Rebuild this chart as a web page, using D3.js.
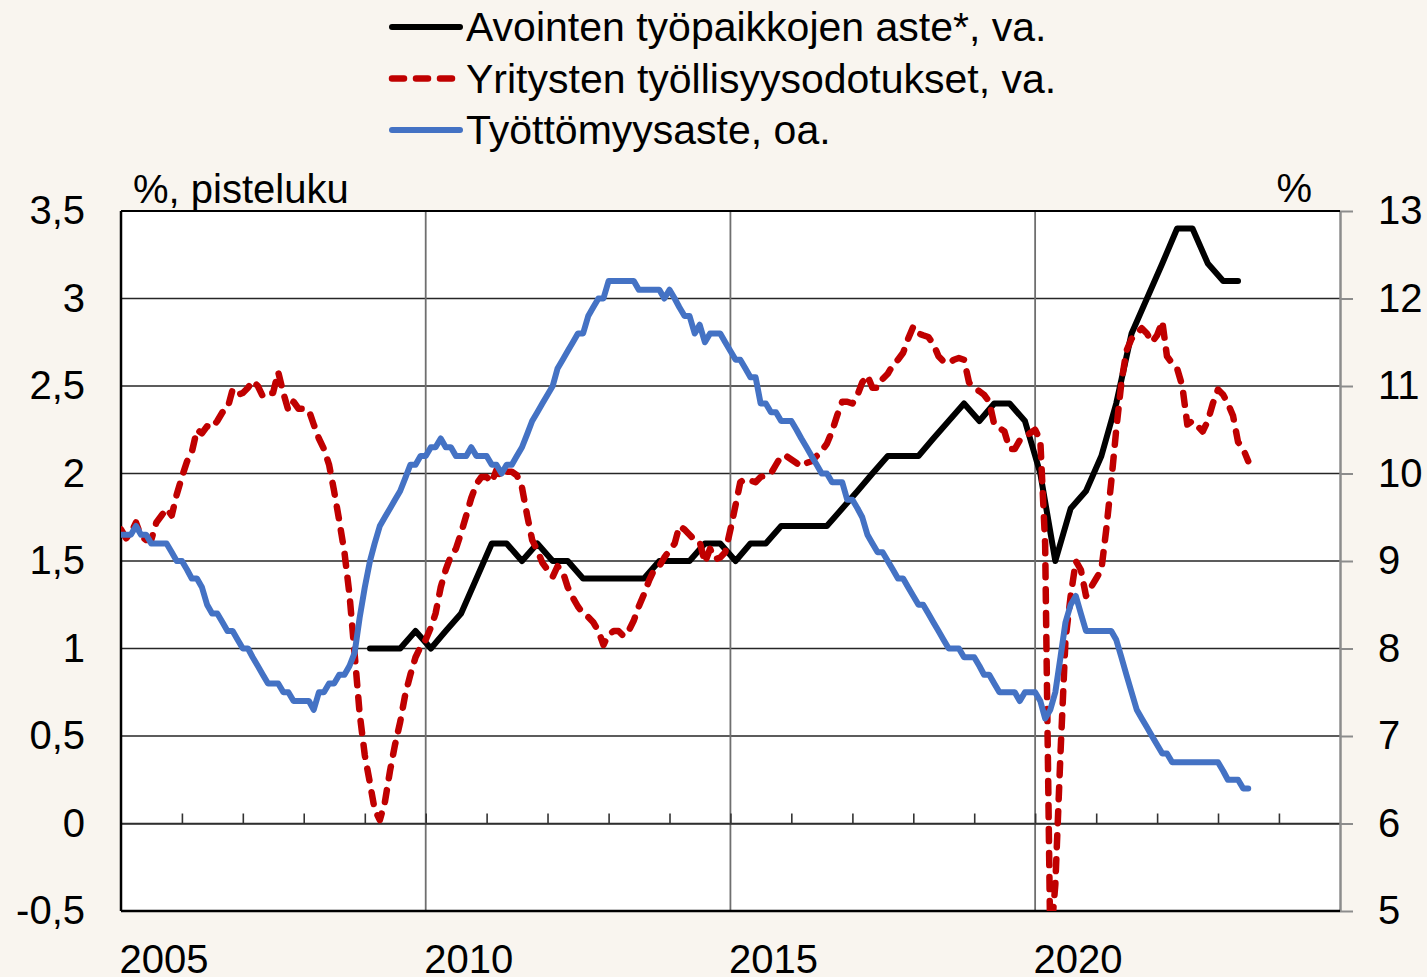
<!DOCTYPE html>
<html lang="fi">
<head>
    <meta charset="UTF-8">
    <title>Avointen työpaikkojen aste, työllisyysodotukset ja työttömyysaste</title>
    <script src="https://d3js.org/d3.v7.min.js"></script>
    <style>
        body { margin: 0; background: #f9f5ef; }
        svg text { font-family: "Liberation Sans", Arial, sans-serif; font-size: 40px; fill: #000; }
        svg text.legend-label { font-size: 41px; }
    </style>
</head>
<body>
    <svg id="chart"></svg>

    <script>
        // Työttömyysaste (trendi), %, kuukausittain tammikuusta 2005 alkaen – oikea akseli
        const tyottomyysaste = [
            9.3, 9.3, 9.3, 9.4, 9.3, 9.3, 9.2, 9.2, 9.2, 9.2, 9.1, 9.0,      // 2005
            9.0, 8.9, 8.8, 8.8, 8.7, 8.5, 8.4, 8.4, 8.3, 8.2, 8.2, 8.1,      // 2006
            8.0, 8.0, 7.9, 7.8, 7.7, 7.6, 7.6, 7.6, 7.5, 7.5, 7.4, 7.4,      // 2007
            7.4, 7.4, 7.3, 7.5, 7.5, 7.6, 7.6, 7.7, 7.7, 7.8, 7.95, 8.35,    // 2008
            8.7, 9.0, 9.2, 9.4, 9.5, 9.6, 9.7, 9.8, 9.95, 10.1, 10.1, 10.2,  // 2009
            10.2, 10.3, 10.3, 10.4, 10.3, 10.3, 10.2, 10.2, 10.2, 10.3, 10.2, 10.2, // 2010
            10.2, 10.1, 10.1, 10.0, 10.1, 10.1, 10.2, 10.3, 10.45, 10.6, 10.7, 10.8, // 2011
            10.9, 11.0, 11.2, 11.3, 11.4, 11.5, 11.6, 11.6, 11.8, 11.9, 12.0, 12.0, // 2012
            12.2, 12.2, 12.2, 12.2, 12.2, 12.2, 12.1, 12.1, 12.1, 12.1, 12.1, 12.0, // 2013
            12.1, 12.0, 11.9, 11.8, 11.8, 11.6, 11.7, 11.5, 11.6, 11.6, 11.6, 11.5, // 2014
            11.4, 11.3, 11.3, 11.2, 11.1, 11.1, 10.8, 10.8, 10.7, 10.7, 10.6, 10.6, // 2015
            10.6, 10.5, 10.4, 10.3, 10.2, 10.1, 10.0, 10.0, 9.9, 9.9, 9.9, 9.7,   // 2016
            9.7, 9.6, 9.5, 9.3, 9.2, 9.1, 9.1, 9.0, 8.9, 8.8, 8.8, 8.7,      // 2017
            8.6, 8.5, 8.5, 8.4, 8.3, 8.2, 8.1, 8.0, 8.0, 8.0, 7.9, 7.9,      // 2018
            7.9, 7.8, 7.7, 7.7, 7.6, 7.5, 7.5, 7.5, 7.5, 7.4, 7.5, 7.5,      // 2019
            7.5, 7.4, 7.2, 7.3, 7.5, 7.9, 8.3, 8.5, 8.6, 8.4, 8.2, 8.2,      // 2020
            8.2, 8.2, 8.2, 8.2, 8.1, 7.9, 7.7, 7.5, 7.3, 7.2, 7.1, 7.0,      // 2021
            6.9, 6.8, 6.8, 6.7, 6.7, 6.7, 6.7, 6.7, 6.7, 6.7, 6.7, 6.7,      // 2022
            6.7, 6.6, 6.5, 6.5, 6.5, 6.4, 6.4                                // 2023
        ];

        // Yritysten työllisyysodotukset, pisteluku, kuukausittain tammikuusta 2005 – vasen akseli
        const tyollisyysodotukset = [
            1.68, 1.63, 1.66, 1.72, 1.64, 1.62, 1.62, 1.72, 1.76, 1.80, 1.76, 1.88, // 2005
            1.98, 2.07, 2.12, 2.25, 2.23, 2.27, 2.26, 2.30, 2.35, 2.37, 2.48, 2.45, // 2006
            2.46, 2.49, 2.53, 2.50, 2.44, 2.46, 2.46, 2.58, 2.46, 2.36, 2.41, 2.37, // 2007
            2.37, 2.36, 2.28, 2.20, 2.14, 2.05, 1.90, 1.73, 1.55, 1.31, 0.97, 0.63, // 2008
            0.39, 0.23, 0.08, 0.02, 0.12, 0.30, 0.45, 0.58, 0.74, 0.85, 0.95, 1.01, // 2009
            1.05, 1.12, 1.20, 1.35, 1.45, 1.53, 1.57, 1.66, 1.76, 1.86, 1.94, 1.98, // 2010
            1.98, 1.95, 2.02, 1.98, 2.01, 2.01, 1.99, 1.92, 1.76, 1.62, 1.56, 1.49, // 2011
            1.45, 1.41, 1.47, 1.44, 1.35, 1.29, 1.24, 1.20, 1.18, 1.15, 1.10, 1.02, // 2012
            1.08, 1.10, 1.10, 1.07, 1.10, 1.16, 1.24, 1.31, 1.39, 1.45, 1.47, 1.52, // 2013
            1.56, 1.60, 1.70, 1.68, 1.65, 1.62, 1.61, 1.49, 1.57, 1.51, 1.52, 1.55, // 2014
            1.68, 1.82, 1.95, 1.97, 1.96, 1.95, 1.98, 1.99, 2.00, 2.05, 2.10, 2.10, // 2015
            2.08, 2.06, 2.04, 2.06, 2.07, 2.10, 2.13, 2.17, 2.24, 2.33, 2.41, 2.41, // 2016
            2.40, 2.45, 2.52, 2.56, 2.49, 2.49, 2.54, 2.57, 2.62, 2.65, 2.69, 2.77, // 2017
            2.84, 2.80, 2.79, 2.78, 2.74, 2.67, 2.64, 2.63, 2.65, 2.66, 2.65, 2.52, // 2018
            2.49, 2.47, 2.45, 2.41, 2.28, 2.26, 2.24, 2.14, 2.14, 2.19, 2.21, 2.23, // 2019
            2.25, 2.19, 1.60, -0.70, -0.35, 0.40, 1.05, 1.30, 1.50, 1.45, 1.30, 1.35, // 2020
            1.40, 1.45, 1.67, 1.95, 2.25, 2.52, 2.70, 2.77, 2.80, 2.83, 2.80, 2.75, // 2021
            2.79, 2.87, 2.67, 2.63, 2.60, 2.50, 2.28, 2.30, 2.27, 2.24, 2.30, 2.40, // 2022
            2.48, 2.45, 2.40, 2.33, 2.18, 2.14, 2.07                                 // 2023
        ];

        // Avointen työpaikkojen aste*, %, neljännesvuosittain 2009Q1 alkaen – vasen akseli
        const avoimetTyopaikat = [
            1.0, 1.0, 1.0, 1.1,   // 2009
            1.0, 1.1, 1.2, 1.4,   // 2010
            1.6, 1.6, 1.5, 1.6,   // 2011
            1.5, 1.5, 1.4, 1.4,   // 2012
            1.4, 1.4, 1.4, 1.5,   // 2013
            1.5, 1.5, 1.6, 1.6,   // 2014
            1.5, 1.6, 1.6, 1.7,   // 2015
            1.7, 1.7, 1.7, 1.8,   // 2016
            1.9, 2.0, 2.1, 2.1,   // 2017
            2.1, 2.2, 2.3, 2.4,   // 2018
            2.3, 2.4, 2.4, 2.3,   // 2019
            2.0, 1.5, 1.8, 1.9,   // 2020
            2.1, 2.4, 2.8, 3.0,   // 2021
            3.2, 3.4, 3.4, 3.2,   // 2022
            3.1, 3.1              // 2023
        ];

        // Akselien jaot ja otsikot
        const vasenJako = [-0.5, 0, 0.5, 1, 1.5, 2, 2.5, 3, 3.5];
        const oikeaJako = [5, 6, 7, 8, 9, 10, 11, 12, 13];
        const vuosiNimet = [2005, 2010, 2015, 2020];
        const vuosiMerkit = d3.range(2006, 2025);
        const sarjaNimet = [
            "Avointen työpaikkojen aste*, va.",
            "Yritysten työllisyysodotukset, va.",
            "Työttömyysaste, oa."
        ];

        const width = 1427, height = 977;
        const plot = { left: 121, right: 1340, top: 211, bottom: 911 };

        const fmt = d3.formatLocale({
            decimal: ",", thousands: " ", grouping: [3], currency: ["", " €"], minus: "-"
        }).format("");

        const x = d3.scaleTime()
            .domain([new Date(2005, 0, 1), new Date(2025, 0, 1)])
            .range([plot.left, plot.right]);
        const yL = d3.scaleLinear().domain([-0.5, 3.5]).range([plot.bottom, plot.top]);
        const yR = d3.scaleLinear().domain([5, 13]).range([plot.bottom, plot.top]);

        // kuukausi- ja neljännesvuosipisteet
        const kuukausittain = arr => arr.map((v, i) => ({ date: new Date(2005, i, 1), value: v }));
        const blueData = kuukausittain(tyottomyysaste);
        const redData = kuukausittain(tyollisyysodotukset);
        const blackData = avoimetTyopaikat.map((v, i) => ({ date: new Date(2009, i * 3 + 1, 1), value: v }));

        const svg = d3.select("#chart")
            .attr("width", width)
            .attr("height", height);

        svg.append("rect")
            .attr("width", width).attr("height", height)
            .attr("fill", "#f9f5ef");

        svg.append("rect")
            .attr("x", plot.left).attr("y", plot.top)
            .attr("width", plot.right - plot.left).attr("height", plot.bottom - plot.top)
            .attr("fill", "#fff");

        svg.append("clipPath").attr("id", "clip")
            .append("rect")
            .attr("x", plot.left).attr("y", plot.top)
            .attr("width", plot.right - plot.left).attr("height", plot.bottom - plot.top);

        // vaakasuorat apuviivat
        svg.append("g").selectAll("line")
            .data(vasenJako)
            .join("line")
            .attr("x1", plot.left).attr("x2", plot.right)
            .attr("y1", d => yL(d)).attr("y2", d => yL(d))
            .attr("stroke", "#262626")
            .attr("stroke-width", 1.3);

        // pystysuorat apuviivat
        svg.append("g").selectAll("line")
            .data(vuosiNimet.slice(1))
            .join("line")
            .attr("x1", d => x(new Date(d, 0, 1))).attr("x2", d => x(new Date(d, 0, 1)))
            .attr("y1", plot.top).attr("y2", plot.bottom)
            .attr("stroke", "#6f6f6f")
            .attr("stroke-width", 1.8);

        // nollaviiva ja vuosimerkit
        const zeroAxis = svg.append("g")
            .attr("transform", `translate(0,${yL(0)})`)
            .call(d3.axisTop(x)
                .tickValues(vuosiMerkit.map(y => new Date(y, 0, 1)))
                .tickSize(10)
                .tickSizeOuter(0)
                .tickFormat(""));
        zeroAxis.selectAll("line").attr("stroke", "#333").attr("stroke-width", 1.6);
        zeroAxis.select(".domain").attr("stroke", "#333").attr("stroke-width", 1.6);

        // vasen akseli
        const leftAxis = svg.append("g")
            .attr("transform", `translate(${plot.left},0)`)
            .call(d3.axisLeft(yL).tickValues(vasenJako).tickFormat(fmt).tickSize(0).tickPadding(36));
        leftAxis.select(".domain").remove();

        // oikea akseli
        const rightAxis = svg.append("g")
            .attr("transform", `translate(${plot.right},0)`)
            .call(d3.axisRight(yR).tickValues(oikeaJako).tickFormat(d3.format("d")).tickSize(13).tickPadding(25).tickSizeOuter(0));
        rightAxis.selectAll("line").attr("stroke", "#8c8c8c").attr("stroke-width", 2);
        rightAxis.select(".domain").attr("stroke", "#8c8c8c").attr("stroke-width", 2.5);

        // vuosiluvut (alareunassa rajautuvat kuten alkuperäisessä)
        const bottomAxis = svg.append("g")
            .attr("transform", `translate(0,${plot.bottom})`)
            .call(d3.axisBottom(x)
                .tickValues(vuosiNimet.map(y => new Date(y, 0, 1)))
                .tickFormat(d3.timeFormat("%Y"))
                .tickSize(0)
                .tickPadding(34));
        bottomAxis.select(".domain").remove();
        bottomAxis.selectAll("text").attr("text-anchor", "start").attr("dx", -2);

        // kehykset
        const frame = svg.append("g").attr("stroke", "#000");
        frame.append("line").attr("x1", plot.left).attr("x2", plot.right)
            .attr("y1", plot.top).attr("y2", plot.top).attr("stroke-width", 2.2);
        frame.append("line").attr("x1", plot.left).attr("x2", plot.right)
            .attr("y1", plot.bottom).attr("y2", plot.bottom).attr("stroke-width", 2.5);
        frame.append("line").attr("x1", plot.left).attr("x2", plot.left)
            .attr("y1", plot.top).attr("y2", plot.bottom).attr("stroke-width", 2.5);

        // akseliotsikot
        svg.append("text").attr("x", 133).attr("y", 203).text("%, pisteluku");
        svg.append("text").attr("x", 1312).attr("y", 202).attr("text-anchor", "end").text("%");

        // sarjat
        const series = [
            { data: blackData, y: yL, color: "#000", dash: null, w: 6 },
            { data: redData, y: yL, color: "#c00000", dash: "12,12", w: 6.5 },
            { data: blueData, y: yR, color: "#4472c4", dash: null, w: 6 }
        ];

        const lines = svg.append("g").attr("clip-path", "url(#clip)");
        series.forEach(s => {
            lines.append("path")
                .datum(s.data)
                .attr("fill", "none")
                .attr("stroke", s.color)
                .attr("stroke-width", s.w)
                .attr("stroke-linejoin", "round")
                .attr("stroke-linecap", "round")
                .attr("stroke-dasharray", s.dash)
                .attr("d", d3.line().x(d => x(d.date)).y(d => s.y(d.value)));
        });

        // selite
        const legend = svg.append("g");
        series.forEach((s, i) => {
            const cy = 27 + i * 51.5;
            legend.append("line")
                .attr("x1", 392).attr("x2", 460)
                .attr("y1", cy).attr("y2", cy)
                .attr("stroke", s.color)
                .attr("stroke-width", s.w)
                .attr("stroke-linecap", "round")
                .attr("stroke-dasharray", s.dash);
            legend.append("text")
                .attr("class", "legend-label")
                .attr("x", 466).attr("y", cy + 14)
                .text(sarjaNimet[i]);
        });
    </script>
</body>
</html>
